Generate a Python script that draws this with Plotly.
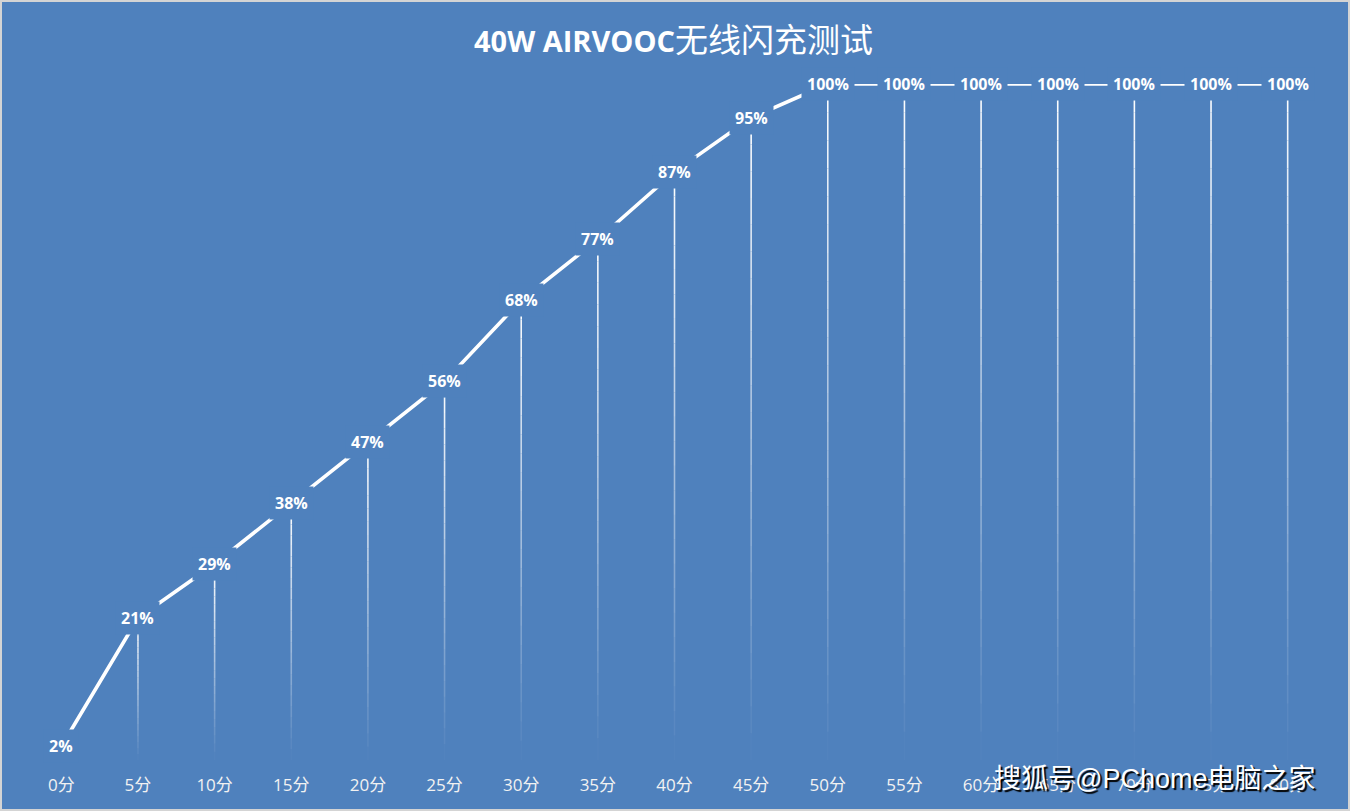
import plotly.graph_objects as go

# ---- data ----
categories = ["0分", "5分", "10分", "15分", "20分", "25分", "30分", "35分", "40分",
              "45分", "50分", "55分", "60分", "65分", "70分", "75分", "80分"]
charge_pct = [2, 21, 29, 38, 47, 56, 68, 77, 87, 95, 100, 100, 100, 100, 100, 100, 100]
title_latin = "40W AIRVOOC"
title_cjk = "无线闪充测试"
watermark = "搜狐号@PChome电脑之家"

BG = "#4F81BD"
W, H = 1350, 811
L, R, T, B = 23, 24, 84, 51
PW, PH = W - L - R, H - T - B

xs = list(range(len(categories)))
fig = go.Figure()

# drop lines with vertical fade (white at top -> transparent at bottom)
N = 24
for k in range(N):
    xx, yy = [], []
    for x, v in zip(xs, charge_pct):
        xx += [x, x, None]
        yy += [v * k / N, v * (k + 1) / N, None]
    op = (k + 0.5) / N
    fig.add_trace(go.Scatter(x=xx, y=yy, mode="lines",
                             line=dict(color=f"rgba(255,255,255,{op:.3f})", width=1.6),
                             hoverinfo="skip", showlegend=False))

# main line
fig.add_trace(go.Scatter(x=xs, y=charge_pct, mode="lines",
                         line=dict(color="white", width=3.6),
                         showlegend=False, hoverinfo="skip"))

# data labels with background (occluding the line)
for x, v in zip(xs, charge_pct):
    fig.add_annotation(x=x, y=v, xref="x", yref="y", text=f"<b>{v}%</b>",
                       showarrow=False, bgcolor=BG, borderpad=5,
                       font=dict(family="Open Sans, Noto Sans", size=16, color="white"))

# title
fig.add_annotation(xref="paper", yref="paper",
                   x=(673 - L) / PW, y=1 + (T - 39) / PH,
                   xanchor="center", yanchor="middle", showarrow=False,
                   text=f"<b>{title_latin}</b><span style='font-size:33px'>{title_cjk}</span>",
                   font=dict(family="Open Sans, Noto Sans CJK SC", size=29, color="white"))

# watermark
fig.add_annotation(xref="paper", yref="paper",
                   x=(1154 - L) / PW, y=-(779 - (H - B)) / PH,
                   xanchor="center", yanchor="middle", showarrow=False,
                   text=watermark,
                   font=dict(family="Liberation Sans, Noto Sans CJK SC", size=27, color="white",
                             shadow="2px 2px 1px black"))

# outer light border
fig.add_shape(type="rect", xref="paper", yref="paper",
              x0=(1 - L) / PW, x1=(W - 1 - L) / PW,
              y0=-(B - 1) / PH, y1=1 + (T - 1) / PH,
              line=dict(color="#D4D4D4", width=2), fillcolor="rgba(0,0,0,0)", layer="above")

fig.update_layout(
    width=W, height=H,
    margin=dict(l=L, r=R, t=T, b=B),
    paper_bgcolor=BG, plot_bgcolor=BG,
    xaxis=dict(range=[-0.5, len(categories) - 0.5], tickmode="array", tickvals=xs,
               ticktext=categories, showgrid=False, zeroline=False, showline=False,
               ticks="", ticklen=0,
               tickfont=dict(family="Open Sans, Noto Sans CJK SC", size=17, color="#F2F2F2")),
    yaxis=dict(range=[0, 100], visible=False, showgrid=False, zeroline=False),
)
fig.update_xaxes(ticklabelstandoff=13)

fig.write_html("out.html", config={"displayModeBar": False},
               post_script="document.body.style.margin='0';document.body.style.padding='0';")
